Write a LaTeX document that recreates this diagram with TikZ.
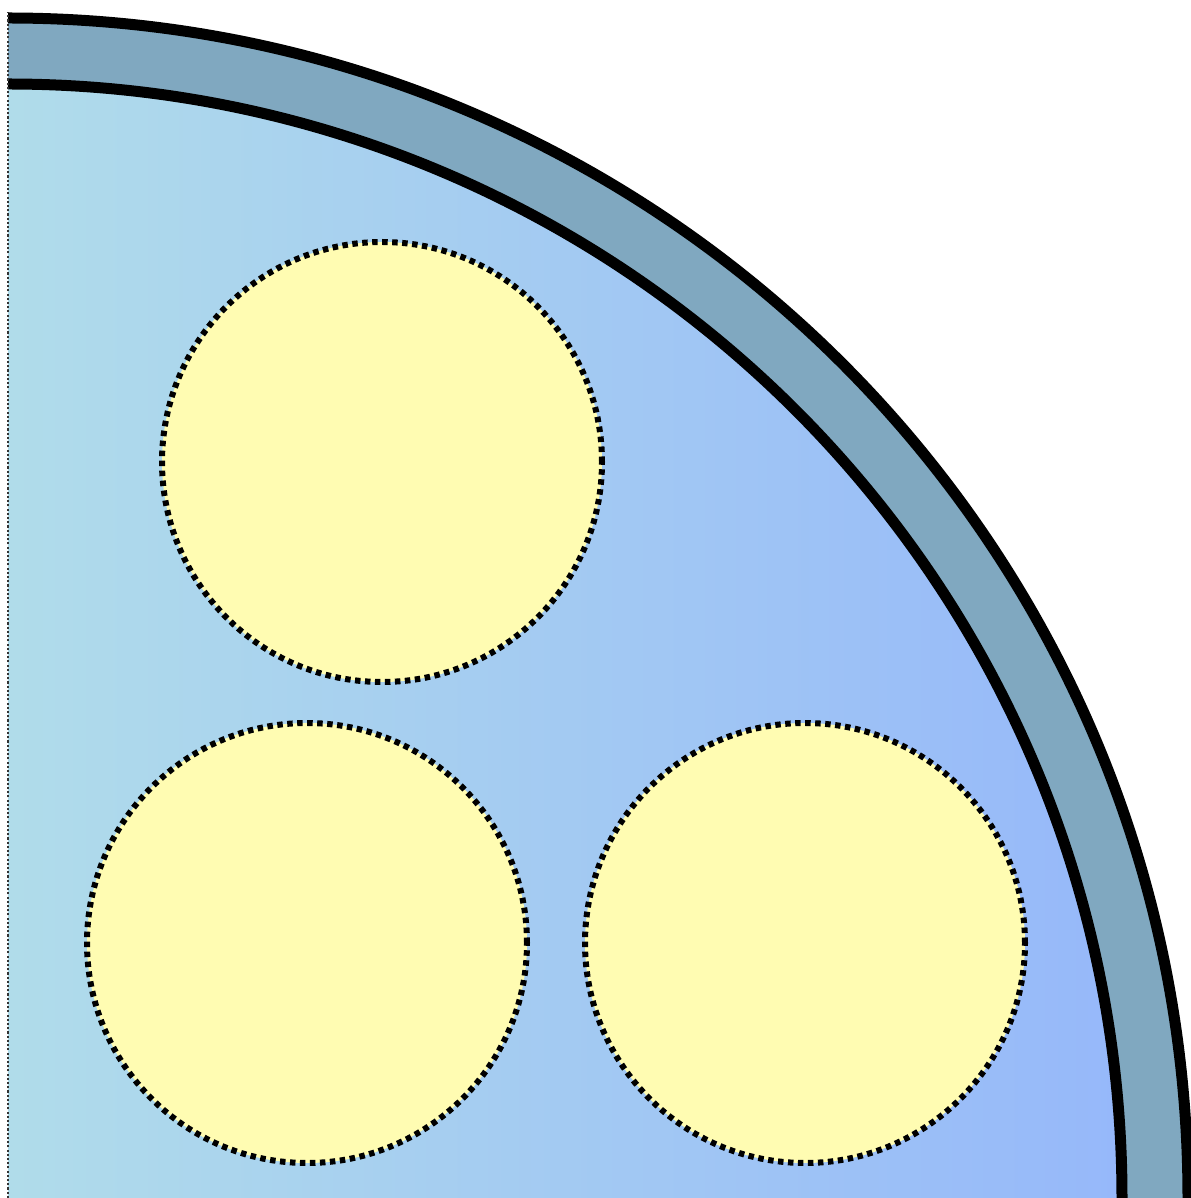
\documentclass[tikz,border=0pt]{standalone}
\usepackage{xcolor}
\usetikzlibrary{positioning}

\definecolor{ringblue}{RGB}{128,168,192}
\definecolor{coreleft}{RGB}{176,220,234}
\definecolor{coreright}{RGB}{150,184,250}
\definecolor{strandyellow}{RGB}{255,252,178}

\begin{document}
\begin{tikzpicture}[
    x=0.02cm, y=0.02cm,
    wall/.style={draw=black, line width=0.22cm},
    strand/.style={fill=strandyellow, draw=black, line width=0.12cm,
      dash pattern=on 0.11cm off 0.09cm},
    edge cut/.style={draw=black!80, line width=0.8pt, dash pattern=on 1.2pt off 1.2pt},
  ]

  \useasboundingbox (0,0) rectangle (1191,1198);
  \coordinate (O) at (8,0);

  % Outer ring
  \fill[ringblue] (8,1180) arc[start angle=90, end angle=0, radius=1180]
    -- (1122,0) arc[start angle=0, end angle=90, radius=1114] -- cycle;

  % Inner core
  \shade[left color=coreleft, right color=coreright]
    (O) -- (8,1114) arc[start angle=90, end angle=0, radius=1114] -- cycle;

  % Ring walls
  \draw[wall] (8,1180) arc[start angle=90, end angle=0, radius=1180];
  \draw[wall] (8,1114) arc[start angle=90, end angle=0, radius=1114];

  % Cut edge
  \draw[edge cut] (O) -- (8,1186);

  % Strands
  \draw[strand] (382,736) circle[radius=220];
  \draw[strand] (307,255) circle[radius=220];
  \draw[strand] (805,255) circle[radius=220];

\end{tikzpicture}
\end{document}
